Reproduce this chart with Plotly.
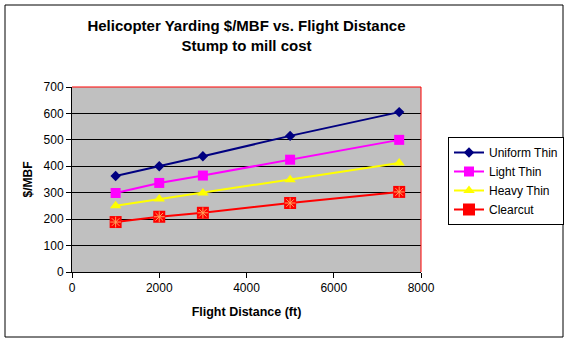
import plotly.graph_objects as go

distance = [1000, 2000, 3000, 5000, 7500]
uniform_thin = [363, 400, 438, 515, 605]
light_thin = [299, 337, 365, 425, 500]
heavy_thin = [251, 276, 299, 349, 412]
clearcut = [189, 209, 224, 261, 303]

x_ticks = [0, 2000, 4000, 6000, 8000]
y_ticks = [0, 100, 200, 300, 400, 500, 600, 700]

W, H = 569, 342
L, R, T, B = 72, 148, 87, 70
pw, ph = W - L - R, H - T - B

def px(x):
    return (x - L) / pw

def py(y):
    return (H - B - y) / ph

fig = go.Figure()
fig.add_trace(go.Scatter(x=distance, y=uniform_thin, name="Uniform Thin", mode="lines+markers",
                         line=dict(color="#000080", width=2),
                         marker=dict(symbol="diamond", size=8, color="#000080")))
fig.add_trace(go.Scatter(x=distance, y=light_thin, name="Light Thin", mode="lines+markers",
                         line=dict(color="#FF00FF", width=2),
                         marker=dict(symbol="square", size=10, color="#FF00FF")))
fig.add_trace(go.Scatter(x=distance, y=heavy_thin, name="Heavy Thin", mode="lines+markers",
                         line=dict(color="#FFFF00", width=2),
                         marker=dict(symbol="triangle-up", size=10, color="#FFFF00")))
fig.add_trace(go.Scatter(x=distance, y=clearcut, name="Clearcut", mode="lines+markers",
                         line=dict(color="#FF0000", width=2),
                         marker=dict(symbol="square", size=12, color="#FF0000")))
fig.add_trace(go.Scatter(x=distance, y=clearcut, name="Clearcut", mode="markers", showlegend=False,
                         marker=dict(symbol="asterisk-open", size=9,
                                     line=dict(color="#00FFFF", width=1))))

fig.update_layout(
    width=W, height=H,
    margin=dict(l=L, r=R, t=T, b=B, autoexpand=False),
    paper_bgcolor="white",
    plot_bgcolor="#C0C0C0",
    font=dict(family="Liberation Sans, Arial, sans-serif", size=12, color="black"),
    title=dict(text="<b>Helicopter Yarding $/MBF vs. Flight Distance<br>Stump to mill cost</b>",
               x=0.5, xref="paper", xanchor="center", y=1 - 31 / H, yanchor="top",
               font=dict(size=15)),
    showlegend=True,
    legend=dict(x=px(448), y=py(137), xanchor="left", yanchor="top",
                bgcolor="white", bordercolor="black", borderwidth=1,
                font=dict(size=12), tracegroupgap=0, itemwidth=30),
    xaxis=dict(range=[0, 8000], tickvals=x_ticks, ticks="outside", ticklen=5, tickcolor="black",
               showline=True, linecolor="black", linewidth=1, showgrid=False, zeroline=False,
               title=dict(text="<b>Flight Distance (ft)</b>", standoff=12, font=dict(size=12.5))),
    yaxis=dict(range=[0, 700], tickvals=y_ticks, ticks="outside", ticklen=5, tickcolor="black",
               showline=True, linecolor="black", linewidth=1, showgrid=True, gridcolor="black",
               gridwidth=1, zeroline=False,
               title=dict(text="<b>$/MBF</b>", standoff=8, font=dict(size=12))),
    shapes=[
        dict(type="line", xref="paper", yref="paper", x0=0, x1=1, y0=1, y1=1,
             line=dict(color="red", width=1)),
        dict(type="line", xref="paper", yref="paper", x0=1, x1=1, y0=0, y1=1,
             line=dict(color="red", width=1)),
        dict(type="rect", xref="paper", yref="paper", x0=px(5), x1=px(563), y0=py(337), y1=py(5),
             line=dict(color="black", width=1), layer="below"),
    ],
)

fig.write_html("out.html")
